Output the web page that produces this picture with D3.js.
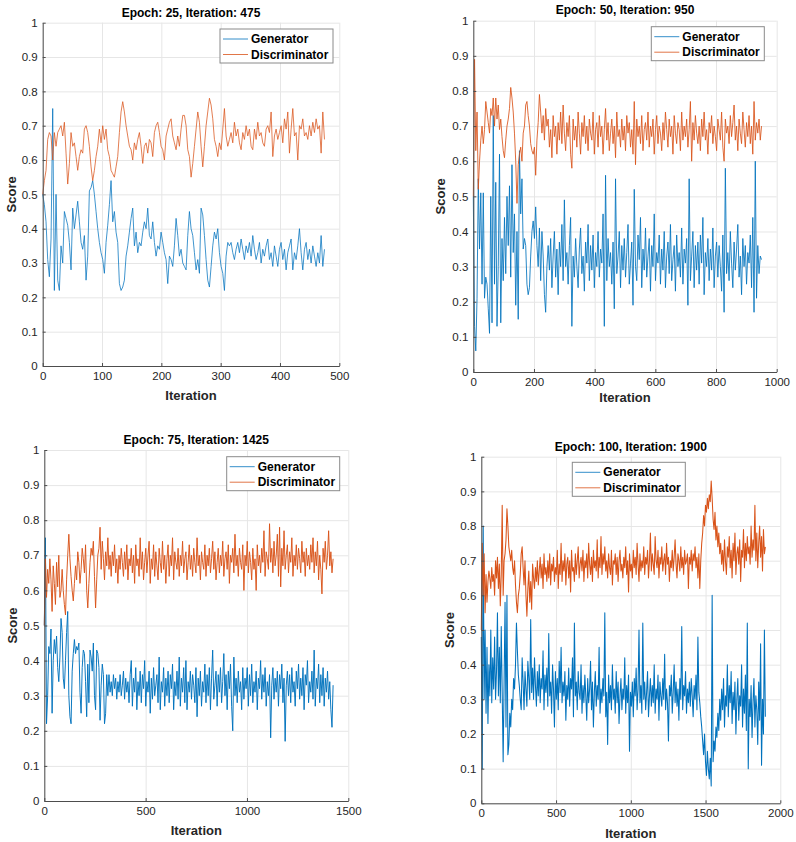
<!DOCTYPE html>
<html><head><meta charset="utf-8">
<script src="https://cdn.jsdelivr.net/npm/d3@7"></script>
<style>
body{margin:0;background:#fff}
svg{display:block}
text{font-family:"Liberation Sans",Arial,Helvetica,sans-serif}
</style>
</head><body>
<svg id="chart" width="796" height="842"></svg>
<script>
// ---------------- DATA ----------------
const seriesNames = ["Generator", "Discriminator"];
const titles = ["Epoch: 25, Iteration: 475", "Epoch: 50, Iteration: 950", "Epoch: 75, Iteration: 1425", "Epoch: 100, Iteration: 1900"];
const lastIterations = [475, 950, 1425, 1900];
const xTickValues = [[0,100,200,300,400,500],[0,200,400,600,800,1000],[0,500,1000,1500],[0,500,1000,1500,2000]];
const yTickValues = [0,0.1,0.2,0.3,0.4,0.5,0.6,0.7,0.8,0.9,1];

const genE25 = [
.50,.47,.42,.31,.26,.37,.75,.22,.50,.25,
.22,.35,.30,.45,.43,.41,.36,.28,.46,.40,
.44,.48,.42,.36,.34,.38,.25,.32,.51,.52,
.54,.50,.45,.40,.36,.33,.31,.27,.36,.41,
.47,.54,.42,.45,.39,.36,.24,.22,.23,.25,
.32,.35,.39,.43,.46,.35,.39,.33,.36,.35,
.39,.42,.40,.46,.38,.37,.42,.36,.32,.35,
.34,.39,.36,.33,.31,.24,.32,.31,.29,.35,
.43,.38,.32,.34,.30,.29,.28,.38,.45,.40,
.38,
.33,.28,.31,.27,.46,.44,.38,.31,.25,.23,
.29,.35,.39,.37,.40,.33,.29,.27,.22,.32,
.36,.35,.36,.33,.31,.34,.36,.33,.37,.34,
.31,.35,.33,.36,.32,.38,.34,.31,.33,.36,
.30,.34,.32,.35,.37,.31,.33,.29,.35,.32,
.29,.34,.36,.31,.34,.28,.33,.35,.37,.28,
.33,.31,.35,.40,.33,.28,.34,.36,.31,.34,
.30,.35,.32,.29,.33,.30,.38,.29,.34];

const disE25 = [
.50,.54,.57,.66,.68,.67,.60,.68,.64,.68,
.69,.70,.67,.71,.62,.53,.59,.68,.64,.65,
.61,.57,.61,.63,.62,.69,.70,.68,.64,.58,
.54,.57,.61,.64,.69,.65,.70,.66,.69,.63,
.61,.57,.56,.55,.58,.61,.68,.74,.77,.74,
.70,.67,.64,.63,.60,.65,.63,.66,.68,.64,
.59,.64,.65,.62,.66,.65,.61,.68,.70,.71,
.68,.64,.63,.60,.67,.69,.71,.72,.67,.65,
.63,.67,.64,.69,.73,.73,.70,.63,.61,.55,
.59,
.64,.69,.74,.71,.64,.58,.64,.70,.74,.78,
.76,.72,.66,.64,.61,.65,.63,.69,.75,.67,
.64,.66,.68,.65,.71,.67,.69,.65,.63,.68,
.66,.70,.67,.69,.64,.63,.69,.66,.71,.67,
.68,.65,.64,.69,.70,.68,.74,.61,.67,.69,
.66,.68,.70,.65,.72,.69,.74,.62,.69,.75,
.67,.68,.60,.70,.69,.72,.67,.68,.66,.70,
.67,.71,.68,.72,.69,.70,.62,.74,.66];

const genE50 = [
.50,.13,.06,.21,.55,.35,.51,.25,.51,.21,
.27,.25,.18,.11,.50,.14,.73,.25,.54,.13,
.30,.62,.14,.38,.26,.44,.28,.50,.36,.53,
.27,.59,.34,.45,.19,.40,.15,
.63,.45,.55,.35,.38,.36,.25,.22,.24,
.33,.40,.43,.38,.47,.36,.30,.41,.26,.40,.33,.22,.17,.30,.36,
.29,.38,.24,.33,.40,.27,.35,.22,.37,.30,
.42,.26,.49,.30,.34,.25,.36,.44,.13,.33,
.27,.38,.30,.24,.35,.41,.28,.33,.23,.37,
.31,.42,.26,.36,.29,.39,.24,.34,.30,.40,
.27,.35,.31,.45,.13,.56,.26,.38,.30,.34,
.25,.37,.18,.55,.28,.33,.40,.24,.36,.29,
.38,.27,.34,.42,.25,.31,.37,.19,.52,.30,
.26,.39,.32,.44,.24,.35,.29,.41,.27,.33,
.38,.23,.36,.30,.45,.26,.34,.31,.39,.25,
.35,.29,.40,.24,.33,.37,.28,.42,.26,.32,
.36,.23,.39,.30,.34,.27,.41,.25,.35,.31,
.38,.19,.55,.26,.33,.40,.24,.36,.29,.37,
.25,.39,.31,.44,.22,.34,.30,.38,.26,.35,
.29,.41,.24,.33,.37,.27,.36,.30,.23,.39,
.17,.58,.28,.34,.26,.40,.31,.24,.37,.29,
.35,.42,.27,.33,.22,.38,.30,.36,.25,.34,
.31,.39,.24,.44,.17,.60,.21,.36,.28,.33,.32];

const disE50 = [
.50,.89,.63,.74,.52,.60,.66,.70,.65,.69,
.77,.74,.71,.68,.75,.73,.78,.70,.78,.72,
.76,.69,.72,.67,.63,.61,.66,.70,.72,.75,
.81,.78,.74,.68,.60,.48,.59,.62,.64,.60,
.68,.70,.76,.77,.73,.70,.65,.63,.62,.64,
.56,.66,.71,.79,.74,.68,.73,.66,.75,.70,
.72,.64,.69,.61,.73,.67,.70,.62,.71,.66,
.74,.65,.76,.68,.63,.71,.67,.73,.62,.58,
.72,.66,.70,.64,.74,.68,.62,.71,.67,.73,
.65,.70,.63,.72,.68,.66,.74,.62,.69,.71,
.64,.73,.67,.70,.62,.69,.75,.66,.71,.63,
.68,.72,.65,.70,.61,.74,.67,.69,.64,.72,
.66,.70,.63,.73,.68,.71,.64,.69,.62,.77,
.59,.72,.67,.70,.65,.73,.63,.69,.71,.66,
.74,.64,.70,.67,.72,.62,.69,.73,.65,.70,
.68,.63,.71,.66,.74,.69,.64,.72,.67,.70,
.62,.73,.68,.65,.71,.69,.63,.74,.66,.70,
.67,.72,.64,.69,.77,.60,.71,.66,.73,.68,
.65,.70,.63,.72,.67,.74,.66,.69,.62,.71,
.68,.73,.65,.70,.67,.63,.72,.69,.66,.74,
.64,.60,.72,.68,.70,.65,.73,.67,.71,.76,
.66,.70,.63,.72,.68,.65,.74,.69,.64,.71,
.67,.73,.65,.70,.62,.77,.66,.71,.68,.72,.66,.70];

const genE75 = [
.50,.75,.22,.30,.44,.42,.49,.25,.40,.46,
.42,.47,.38,.34,.41,.52,.48,.35,.32,.40,
.48,.54,.30,.24,.22,.37,.42,.46,.42,.44,
.43,.45,.31,.25,.38,.43,.42,.34,.24,.39,
.28,.43,.41,.37,.45,.30,.26,.43,.42,.38,
.23,.33,.39,.36,.22,.25,.36,.30,
.36,.31,
.34,.30,.36,.32,.35,.29,.34,.31,.36,.30,
.33,.37,.29,.35,.31,.34,.28,.36,.40,.27,
.35,.31,.38,.26,.34,.30,.37,.28,.36,.32,
.40,.27,.34,.31,.37,.25,.35,.29,.38,.30,
.33,.36,.28,.41,.26,.34,.31,.38,.27,.35,
.30,.37,.28,.36,.32,.39,.26,.34,.30,.37,
.29,.41,.27,.35,.31,.38,.28,.40,.26,.34,
.31,.37,.29,.36,.33,.28,.38,.24,.35,.30,
.37,.27,.34,.31,.39,.28,.36,.30,.38,.26,
.35,.43,.29,.33,.37,.27,.36,.31,.38,.28,
.34,.42,.30,.36,.26,.37,.32,.39,.27,.20,
.41,.30,.35,.28,.37,.31,.34,.26,.38,.29,
.35,.32,.38,.27,.36,.30,.39,.28,.34,.31,
.37,.26,.35,.32,.40,.29,.36,.31,.38,.27,
.34,.30,.36,.18,.33,.38,.29,.35,.31,.37,
.27,.36,.32,.39,.28,.35,.17,.33,.37,.30,
.36,.28,.38,.31,.34,.27,.37,.32,.39,.29,
.35,.30,.38,.26,.36,.33,.40,.28,.34,.31,
.37,.29,.43,.27,.35,.32,.39,.28,.36,.30,
.38,.27,.35,.31,.37,.29,.34,.26,.21,.33];

const disE75 = [
.50,.69,.58,.66,.62,.69,.63,.54,.67,.62,
.56,.68,.61,.70,.58,.60,.66,.60,.56,.53,
.63,.70,.76,.69,.64,.60,.57,.62,.67,.63,
.71,.68,.62,.66,.72,.69,.65,.73,.60,.55,
.62,.68,.72,.70,.74,.64,.55,.63,.70,.72,
.78,.66,.74,.69,.63,.71,.67,.75,
.66,.70,
.64,.71,.67,.73,.65,.69,.62,.70,.66,.72,
.68,.64,.71,.66,.73,.63,.69,.67,.72,.65,
.70,.62,.73,.67,.69,.64,.75,.66,.71,.63,
.68,.72,.65,.70,.74,.62,.69,.66,.73,.64,
.71,.67,.63,.72,.68,.65,.74,.66,.70,.62,
.69,.73,.64,.70,.67,.75,.63,.71,.68,.66,
.72,.64,.70,.67,.74,.65,.69,.71,.63,.68,
.73,.66,.70,.64,.72,.68,.65,.75,.67,.70,
.63,.71,.68,.66,.73,.64,.70,.67,.72,.65,
.69,.74,.66,.71,.63,.68,.72,.65,.70,.67,
.74,.64,.69,.71,.66,.73,.62,.70,.68,.72,
.65,.76,.67,.70,.64,.72,.68,.66,.73,.60,
.70,.67,.74,.65,.71,.68,.63,.72,.66,.69,
.60,.73,.67,.70,.65,.72,.68,.77,.64,.71,
.69,.66,.79,.68,.72,.65,.74,.67,.70,.76,
.64,.78,.61,.72,.67,.77,.66,.70,.73,.65,
.71,.68,.75,.64,.70,.67,.73,.66,.72,.69,
.65,.74,.68,.71,.64,.72,.67,.70,.66,.73,
.68,.75,.65,.71,.67,.74,.63,.70,.66,.59,
.72,.68,.74,.66,.70,.77,.67,.71,.65,.69];

const genE100 = [
.48,.10,.80,.30,.50,.26,.45,.23,.40,.31,
.50,.29,.42,.33,.48,.30,.38,.55,.31,.45,
.29,.51,.32,.12,.35,.58,.22,.60,.14,.17,
.26,.22,.30,.27,.36,.33,.40,.52,.44,.37,
.34,.30,.27,.42,.35,.27,.38,.33,.28,.41,
.36,.30,.53,.32,.39,.30,.42,.34,.28,.38,
.31,.40,.29,.36,.33,.44,.27,.37,.32,.39,
.28,.49,.31,.35,.26,.40,.33,.22,.38,.30,
.36,.27,.41,.32,.45,.29,.35,.31,.38,.24,
.34,.30,.39,.28,.36,.33,.42,.25,.52,.31,
.35,.27,.38,.32,.30,.40,.26,.34,.29,.37,
.31,.24,.36,.29,.33,.41,.27,.35,.22,.32,
.38,.28,.34,.30,.45,.26,.33,.29,.36,.31,
.55,.25,.32,.17,.37,.29,.34,.27,.40,.30,
.33,.26,.38,.29,.35,.23,.31,.36,.27,.33,
.30,.42,.26,.34,.29,.37,.15,.32,.28,.35,
.25,.36,.31,.39,.27,.33,.50,.29,.34,.26,
.52,.30,.35,.27,.32,.38,.25,.31,.36,.28,
.34,.29,.40,.26,.33,.30,.37,.24,.35,.31,
.28,.36,.30,.43,.27,.33,.29,.18,.34,.31,
.37,.26,.32,.40,.29,.35,.28,.33,.24,.36,
.30,.51,.27,.34,.31,.38,.26,.33,.29,.35,
.28,.36,.31,.25,.34,.30,.37,.27,.48,.32,
.29,.25,.22,.18,.14,.20,.12,.08,.15,.10,
.07,.13,.05,.60,.12,.18,.15,.22,.19,.26,
.21,.30,.24,.33,.27,.36,.22,.31,.28,.40,
.25,.34,.29,.38,.23,.32,.27,.35,.20,.30,
.36,.24,.31,.28,.40,.22,.33,.26,.37,.21,
.52,.10,.30,.25,.34,.19,.29,.36,.22,.31,
.27,.17,.35,.24,.46,.11,.30,.20,.50,.25];

const disE100 = [
.50,.75,.60,.72,.55,.66,.58,.64,.67,.65,
.62,.68,.64,.66,.60,.70,.65,.71,.62,.69,
.57,.66,.86,.60,.70,.72,.76,.85,.80,.74,
.72,.70,.73,.68,.66,.70,.63,.58,.55,.60,
.62,.66,.72,.74,.68,.63,.70,.60,.54,.62,
.67,.58,.64,.56,.69,.65,.62,.68,.64,.70,
.63,.67,.71,.65,.69,.62,.72,.66,.68,.64,
.70,.65,.72,.63,.69,.67,.71,.64,.68,.66,
.73,.62,.69,.66,.75,.64,.70,.67,.72,.63,
.69,.71,.65,.70,.61,.73,.67,.68,.64,.72,
.66,.70,.74,.65,.69,.71,.67,.73,.64,.70,
.68,.72,.65,.75,.69,.66,.71,.64,.73,.68,
.70,.67,.76,.65,.71,.68,.77,.66,.72,.69,
.74,.67,.70,.65,.72,.68,.66,.73,.63,.70,
.69,.72,.66,.71,.64,.70,.73,.67,.69,.65,
.71,.68,.74,.66,.70,.61,.72,.67,.69,.65,
.73,.68,.71,.66,.75,.69,.64,.72,.67,.70,
.68,.74,.66,.71,.69,.73,.65,.70,.78,.67,
.72,.69,.66,.77,.70,.68,.73,.65,.71,.69,
.74,.67,.70,.72,.66,.75,.69,.71,.64,.70,
.68,.73,.67,.71,.76,.69,.65,.72,.70,.67,
.74,.68,.71,.66,.73,.69,.70,.72,.62,.71,
.69,.73,.67,.72,.70,.74,.68,.71,.65,.72,
.62,.70,.75,.78,.83,.80,.86,.84,.88,.85,
.89,.87,.93,.88,.82,.79,.84,.76,.80,.74,
.78,.72,.75,.69,.73,.67,.76,.70,.66,.74,
.71,.77,.68,.73,.65,.75,.70,.78,.66,.72,
.74,.69,.76,.64,.73,.71,.79,.68,.75,.70,
.77,.72,.74,.69,.80,.71,.76,.73,.86,.70,
.78,.68,.75,.80,.71,.77,.67,.79,.72,.74];

const generatorSeries = [genE25, genE50, genE75, genE100];
const discriminatorSeries = [disE25, disE50, disE75, disE100];

// ---------------- LAYOUT / STYLE ----------------
const colors = ["#0072BD", "#D95319"];
const strokeWidths = [0.75, 0.85, 0.95, 1.05];
const layout = [
  {l:42.7, r:339.3, t:22.7, b:366,   titleY:17,    xlabY:399.5, ylabX:11,    legX:220,   legY:29},
  {l:473.3,r:776.7, t:20.7, b:372,   titleY:13.6,  xlabY:401.5, ylabX:440.7, legX:651.3, legY:26.7},
  {l:44.3, r:348.3, t:450,  b:801,   titleY:443.6, xlabY:835,   ylabX:12.7,  legX:226.7, legY:456.7},
  {l:481.3,r:780.3, t:456.7,b:803.3, titleY:451,   xlabY:837.5, ylabX:449.3, legX:572.3, legY:462.3}
];

const svg = d3.select("#chart");
const axisColor = "#4d4d4d";
const gridColor = "#e6e6e6";
const fmt = d => String(+d.toFixed(1));

layout.forEach((L, p) => {
  const xMax = xTickValues[p][xTickValues[p].length - 1];
  const x = d3.scaleLinear().domain([0, xMax]).range([L.l, L.r]);
  const y = d3.scaleLinear().domain([0, 1]).range([L.b, L.t]);
  const g = svg.append("g");

  // grid
  g.append("g").attr("transform", `translate(0,${L.b})`)
    .call(d3.axisBottom(x).tickValues(xTickValues[p]).tickSize(-(L.b - L.t)).tickFormat(""))
    .call(s => { s.select(".domain").remove(); s.selectAll("line").attr("stroke", gridColor).attr("stroke-width", 1); });
  g.append("g").attr("transform", `translate(${L.l},0)`)
    .call(d3.axisLeft(y).tickValues(yTickValues).tickSize(-(L.r - L.l)).tickFormat(""))
    .call(s => { s.select(".domain").remove(); s.selectAll("line").attr("stroke", gridColor).attr("stroke-width", 1); });

  // lines
  const last = lastIterations[p];
  const series = [generatorSeries[p], discriminatorSeries[p]];
  series.forEach((vals, k) => {
    const n = vals.length;
    const line = d3.line().x((d, i) => x(i * last / (n - 1))).y(d => y(d));
    g.append("path").datum(vals).attr("d", line)
      .attr("fill", "none").attr("stroke", colors[k]).attr("stroke-width", strokeWidths[p])
      .attr("stroke-linejoin", "round");
  });

  // axes
  g.append("g").attr("transform", `translate(0,${L.b})`)
    .call(d3.axisBottom(x).tickValues(xTickValues[p]).tickSizeInner(-3).tickSizeOuter(0).tickPadding(6).tickFormat(d => String(d)))
    .call(s => {
      s.select(".domain").attr("stroke", axisColor);
      s.selectAll("line").attr("stroke", axisColor);
      s.selectAll("text").attr("fill", "#262626").style("font-size", "11.5px");
    });
  g.append("g").attr("transform", `translate(${L.l},0)`)
    .call(d3.axisLeft(y).tickValues(yTickValues).tickSizeInner(-3).tickSizeOuter(0).tickPadding(5).tickFormat(fmt))
    .call(s => {
      s.select(".domain").attr("stroke", axisColor);
      s.selectAll("line").attr("stroke", axisColor);
      s.selectAll("text").attr("fill", "#262626").style("font-size", "11.5px");
    });

  // title & labels
  g.append("text").attr("x", (L.l + L.r) / 2).attr("y", L.titleY)
    .attr("text-anchor", "middle").style("font-size", "12px").style("font-weight", "bold").attr("fill", "#000")
    .text(titles[p]);
  g.append("text").attr("x", (L.l + L.r) / 2).attr("y", L.xlabY)
    .attr("text-anchor", "middle").style("font-size", "13px").style("font-weight", "bold").attr("fill", "#262626")
    .text("Iteration");
  g.append("text").attr("transform", `translate(${L.ylabX},${(L.t + L.b) / 2}) rotate(-90)`)
    .attr("dy", "0.35em").attr("text-anchor", "middle").style("font-size", "13px").style("font-weight", "bold").attr("fill", "#262626")
    .text("Score");

  // legend
  const leg = g.append("g").attr("transform", `translate(${L.legX},${L.legY})`);
  leg.append("rect").attr("x", 0).attr("y", 0).attr("width", 113).attr("height", 34)
    .attr("fill", "#fff").attr("stroke", "#8a8a8a").attr("stroke-width", 1);
  seriesNames.forEach((name, k) => {
    const cy = 10 + k * 15.5;
    leg.append("line").attr("x1", 3).attr("x2", 28).attr("y1", cy).attr("y2", cy)
      .attr("stroke", colors[k]).attr("stroke-width", 0.8);
    leg.append("text").attr("x", 31).attr("y", cy).attr("dy", "0.35em")
      .style("font-size", "12px").style("font-weight", "bold").attr("fill", "#000").text(name);
  });
});
</script>
</body></html>
